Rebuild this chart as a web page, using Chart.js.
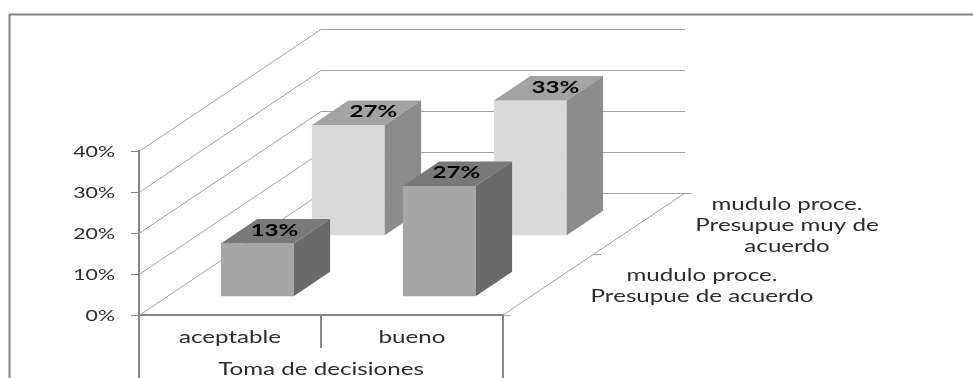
<!DOCTYPE html>
<html lang="es">
<head>
<meta charset="utf-8">
<title>Toma de decisiones</title>
<script src="https://cdn.jsdelivr.net/npm/chart.js@4/dist/chart.umd.min.js"></script>
<style>
  html, body { margin: 0; padding: 0; background: #fff; }
  canvas { display: block; }
</style>
</head>
<body>
<canvas id="chart" width="973" height="378"></canvas>
<script>
const categories = ['aceptable', 'bueno'];
const groupLabel = 'Toma de decisiones';
const deAcuerdo = [13, 27];
const muyDeAcuerdo = [27, 33];
const seriesNames = [
  ['mudulo proce.', 'Presupue de acuerdo'],
  ['mudulo proce.', 'Presupue muy de', 'acuerdo'],
];
const yTicks = [0, 10, 20, 30, 40];

// Oblique projection of the 3D box: how far the floor runs back
const FLOOR_DX = 182;
const FLOOR_DY = -122;
const BAR_DEPTH = 0.2;
const seriesDepth = [0.15, 0.65];
const labelShift = [17, 25];

const AXIS_COLOR = '#868686';
const GRID_COLOR = '#a2a2a2';
const TEXT_COLOR = '#2c2c2c';
const FACES = [
  { front: '#a6a6a6', top: '#797979', side: '#6a6a6a' },
  { front: '#d9d9d9', top: '#a3a3a3', side: '#8c8c8c' },
];

const TEXT_STRETCH = 1.42;
const TICK_FONT = '15px Lato';
const LABEL_FONT = '17px Lato';
const VALUE_FONT = 'bold 17px Lato';

function wideText(ctx, text, x, y, font, color, align = 'center') {
  ctx.save();
  ctx.font = font;
  ctx.fillStyle = color;
  ctx.textAlign = align;
  ctx.textBaseline = 'middle';
  ctx.translate(x, y + 1);
  ctx.scale(TEXT_STRETCH, 1);
  ctx.fillText(text, 0, 0);
  ctx.restore();
}

function line(ctx, points, color, width = 1) {
  ctx.save();
  ctx.strokeStyle = color;
  ctx.lineWidth = width;
  ctx.beginPath();
  points.forEach(([x, y], i) => (i ? ctx.lineTo(x, y) : ctx.moveTo(x, y)));
  ctx.stroke();
  ctx.restore();
}

function face(ctx, points, color) {
  ctx.fillStyle = color;
  ctx.beginPath();
  points.forEach(([x, y], i) => (i ? ctx.lineTo(x, y) : ctx.moveTo(x, y)));
  ctx.closePath();
  ctx.fill();
}

// Walls, frame and all the axis text
const wallsPlugin = {
  id: 'walls',
  beforeDatasetsDraw(chart) {
    const { ctx, chartArea: { left, right, bottom }, scales: { x, y } } = chart;

    line(ctx, [[9.5, 378], [9.5, 14.5], [973, 14.5]], AXIS_COLOR, 2);

    // side wall plus back wall for every tick
    yTicks.forEach((v) => {
      const py = Math.round(y.getPixelForValue(v)) + 0.5;
      line(ctx, [[left, py], [left + FLOOR_DX, py + FLOOR_DY], [right + FLOOR_DX, py + FLOOR_DY]], GRID_COLOR);
    });

    // floor edge and its ticks
    line(ctx, [[right, bottom], [right + FLOOR_DX, bottom + FLOOR_DY]], GRID_COLOR);
    line(ctx, [[right, bottom + 0.5], [right + 8, bottom + 0.5]], GRID_COLOR);
    line(ctx, [[right + FLOOR_DX / 2, bottom + FLOOR_DY / 2 + 0.5], [right + FLOOR_DX / 2 + 7, bottom + FLOOR_DY / 2 + 0.5]], GRID_COLOR);
    line(ctx, [[right + FLOOR_DX, bottom + FLOOR_DY + 0.5], [right + FLOOR_DX + 7, bottom + FLOOR_DY + 0.5]], GRID_COLOR);

    // multi-level category dividers
    line(ctx, [[left, bottom], [left, 378]], AXIS_COLOR, 2);
    line(ctx, [[right, bottom], [right, 378]], AXIS_COLOR, 2);
    line(ctx, [[(left + right) / 2, bottom], [(left + right) / 2, bottom + 33]], AXIS_COLOR, 2);

    y.ticks.forEach((t) => {
      wideText(ctx, t.label, 115, y.getPixelForValue(t.value), TICK_FONT, TEXT_COLOR, 'right');
    });
    categories.forEach((c, i) => {
      wideText(ctx, c, x.getPixelForValue(i), bottom + 22, LABEL_FONT, TEXT_COLOR);
    });
    wideText(ctx, groupLabel, (left + right) / 2, bottom + 54, LABEL_FONT, TEXT_COLOR);

    seriesNames[1].forEach((s, i) => wideText(ctx, s, 787, 204 + i * 21, LABEL_FONT, TEXT_COLOR));
    seriesNames[0].forEach((s, i) => wideText(ctx, s, 702, 275 + i * 21, LABEL_FONT, TEXT_COLOR));
  },
  // each series sits on its own row of the floor
  beforeDatasetDraw(chart, { index }) {
    const { ctx } = chart;
    ctx.save();
    ctx.translate(FLOOR_DX * seriesDepth[index], FLOOR_DY * seriesDepth[index]);
  },
  afterDatasetDraw(chart, { index, meta }) {
    const { ctx } = chart;
    const colors = FACES[index];
    const dx = FLOOR_DX * BAR_DEPTH;
    const dy = FLOOR_DY * BAR_DEPTH;
    meta.data.forEach((bar) => {
      const x0 = bar.x - bar.width / 2;
      const x1 = bar.x + bar.width / 2;
      face(ctx, [[x0, bar.y], [x1, bar.y], [x1 + dx, bar.y + dy], [x0 + dx, bar.y + dy]], colors.top);
      face(ctx, [[x1, bar.y], [x1 + dx, bar.y + dy], [x1 + dx, bar.base + dy], [x1, bar.base]], colors.side);
    });
    meta.data.forEach((bar, i) => {
      const text = chart.data.datasets[index].data[i] + '%';
      wideText(ctx, text, bar.x + labelShift[index], bar.y - 14, VALUE_FONT, '#000');
    });
    ctx.restore();
  },
};

new Chart(document.getElementById('chart').getContext('2d'), {
  type: 'bar',
  data: {
    labels: categories,
    datasets: [
      { label: seriesNames[0].join(' '), data: deAcuerdo, backgroundColor: FACES[0].front },
      { label: seriesNames[1].join(' '), data: muyDeAcuerdo, backgroundColor: FACES[1].front },
    ],
  },
  options: {
    responsive: false,
    animation: false,
    layout: { padding: { left: 0, top: 151, right: 470, bottom: 0 } },
    datasets: { bar: { grouped: false, categoryPercentage: 1, barPercentage: 0.4, borderWidth: 0, clip: false } },
    plugins: { legend: { display: false }, tooltip: { enabled: false } },
    scales: {
      x: {
        afterFit(scale) { scale.height = 63; },
        ticks: { display: false },
        grid: { display: false },
        border: { color: AXIS_COLOR, width: 2 },
      },
      y: {
        min: yTicks[0],
        max: yTicks[yTicks.length - 1],
        afterFit(scale) { scale.width = 139; },
        ticks: { display: false, stepSize: 10, callback: (v) => v + '%' },
        grid: { drawOnChartArea: false, drawTicks: true, tickLength: 8, tickColor: AXIS_COLOR },
        border: { color: AXIS_COLOR, width: 2 },
      },
    },
  },
  plugins: [wallsPlugin],
});
</script>
</body>
</html>
